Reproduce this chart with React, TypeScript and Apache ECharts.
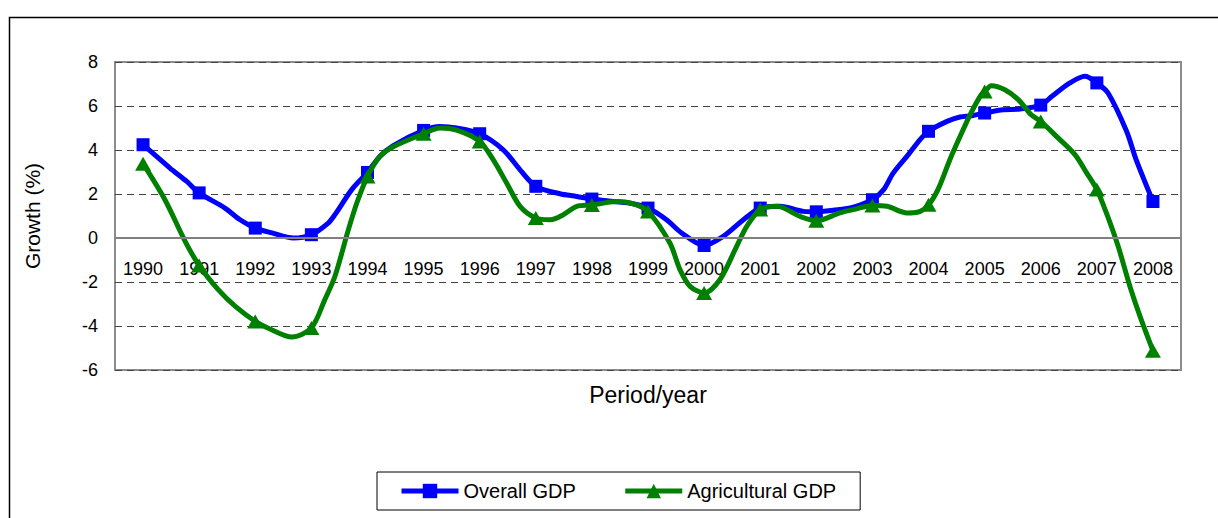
import React, { useEffect, useRef } from "react";
import * as echarts from "echarts";

const years = [1990, 1991, 1992, 1993, 1994, 1995, 1996, 1997, 1998, 1999, 2000, 2001, 2002, 2003, 2004, 2005, 2006, 2007, 2008];
const overallGDP = [4.24, 2.05, 0.45, 0.15, 2.98, 4.89, 4.74, 2.35, 1.77, 1.36, -0.34, 1.36, 1.19, 1.74, 4.85, 5.68, 6.04, 7.05, 1.66];
const agriculturalGDP = [3.38, -1.25, -3.79, -4.09, 2.8, 4.74, 4.39, 0.91, 1.5, 1.21, -2.5, 1.29, 0.78, 1.48, 1.51, 6.66, 5.3, 2.2, -5.12];

// points of the plotted curves between the yearly markers: [period, growth]
const overallBetween: [number, number][] = [
  [1990.48, 3.18], [1990.78, 2.57], [1991.46, 1.36], [1991.73, 0.83], [1992.3, 0.23], [1992.68, 0.0],
  [1993.3, 0.68], [1993.42, 1.06], [1993.72, 2.2], [1994.22, 3.71], [1994.46, 4.2], [1995.29, 5.07],
  [1995.59, 5.0], [1996.42, 4.01], [1996.72, 3.1], [1997.43, 2.01], [1997.73, 1.89], [1998.38, 1.66],
  [1998.73, 1.56], [1999.33, 0.83], [1999.6, 0.23], [2000.34, 0.07], [2000.7, 0.83], [2001.35, 1.44],
  [2001.77, 1.21], [2002.42, 1.3], [2002.66, 1.4], [2003.2, 2.2], [2003.37, 2.95], [2003.64, 3.79],
  [2003.85, 4.47], [2004.33, 5.3], [2004.56, 5.5], [2004.77, 5.56], [2005.33, 5.83], [2005.63, 5.86],
  [2006.2, 6.44], [2006.52, 7.05], [2006.79, 7.35], [2007.2, 6.59], [2007.53, 4.85], [2007.7, 3.56],
];
const agriculturalBetween: [number, number][] = [
  [1990.39, 1.74], [1990.75, -0.15], [1991.34, -2.35], [1991.64, -3.1], [1992.29, -4.17], [1992.65, -4.5],
  [1993.24, -2.8], [1993.42, -1.74], [1993.66, 0.38], [1993.81, 1.59], [1994.22, 3.7], [1994.46, 4.15],
  [1995.29, 5.0], [1995.59, 4.9], [1996.24, 3.56], [1996.48, 2.5], [1996.72, 1.44], [1997.26, 0.83],
  [1997.49, 1.06], [1997.73, 1.44], [1998.44, 1.66], [1998.73, 1.56], [1999.39, -0.23], [1999.57, -1.44],
  [1999.75, -2.2], [2000.28, -1.9], [2000.58, -0.38], [2000.76, 0.53], [2001.3, 1.44], [2001.71, 0.98],
  [2002.42, 1.14], [2002.66, 1.29], [2003.26, 1.44], [2003.62, 1.14], [2003.8, 1.17], [2004.18, 2.27],
  [2004.38, 3.56], [2004.59, 4.77], [2004.74, 5.6], [2004.92, 6.44], [2005.12, 6.92], [2005.36, 6.74],
  [2005.6, 6.29], [2005.83, 5.6], [2006.28, 4.62], [2006.61, 3.79], [2006.82, 2.95], [2007.17, 1.14],
  [2007.38, -0.38], [2007.59, -2.2], [2007.77, -3.56],
];

const yTicks = { min: -6, max: 8, interval: 2 };

function buildData(yearly: number[], between: [number, number][]) {
  const items: any[] = [];
  years.forEach((y, i) => items.push({ value: [y, yearly[i]] }));
  between.forEach((p) => items.push({ value: [p[0], p[1]], symbol: "none", symbolSize: 0 }));
  items.sort((a, b) => a.value[0] - b.value[0]);
  return items;
}

export default function App() {
  const ref = useRef<HTMLDivElement>(null);
  useEffect(() => {
    if (!ref.current) return;
    const chart = echarts.init(ref.current, undefined, { renderer: "svg" });
    const sans = "'Liberation Sans', Arial, sans-serif";
    chart.setOption({
      animation: false,
      backgroundColor: "#fff",
      graphic: [
        {
          type: "rect",
          shape: { x: 9.5, y: 17.5, width: 1400, height: 700 },
          style: { fill: "none", stroke: "#000", lineWidth: 1.5 },
          silent: true,
          z: -1,
        },
      ],
      grid: {
        left: 115,
        top: 62,
        width: 1066,
        height: 308,
        show: true,
        containLabel: false,
        outerBoundsMode: "none",
        borderColor: "#8c8c8c",
        borderWidth: 2,
        backgroundColor: "transparent",
      },
      legend: {
        left: 377,
        top: 472,
        orient: "horizontal",
        borderColor: "#000",
        borderWidth: 1,
        backgroundColor: "#fff",
        padding: [9, 24, 9, 22],
        itemWidth: 57,
        itemHeight: 18,
        itemGap: 47,
        lineStyle: { width: 5 },
        textStyle: { fontFamily: sans, fontSize: 20, color: "#000" },
        data: ["Overall GDP", "Agricultural GDP"],
      },
      xAxis: {
        type: "value",
        min: 1989.5,
        max: 2008.5,
        name: "Period/year",
        nameLocation: "middle",
        nameGap: 13,
        nameTextStyle: { fontFamily: sans, fontSize: 23, color: "#000" },
        axisLine: { show: false, onZero: false },
        axisTick: { show: false },
        splitLine: { show: false },
        axisLabel: {
          customValues: years,
          fontFamily: sans,
          fontSize: 18,
          color: "#000",
          margin: -110,
          formatter: (v: number) => String(v),
        },
      },
      yAxis: {
        type: "value",
        min: yTicks.min,
        max: yTicks.max,
        interval: yTicks.interval,
        name: "Growth (%)",
        nameLocation: "middle",
        nameRotate: 90,
        nameGap: 72,
        nameTextStyle: { fontFamily: sans, fontSize: 21, color: "#000" },
        axisLine: { show: false },
        axisTick: { show: false },
        axisLabel: { fontFamily: sans, fontSize: 18, color: "#000", margin: 17 },
        splitLine: { show: true, lineStyle: { color: "#444", width: 1, type: [7, 5] } },
      },
      series: [
        {
          name: "zero",
          type: "line",
          data: [],
          z: 1,
          silent: true,
          markLine: {
            silent: true,
            symbol: "none",
            label: { show: false },
            lineStyle: { color: "#808080", width: 2, type: "solid" },
            data: [{ yAxis: 0 }],
          },
        },
        {
          name: "Overall GDP",
          type: "line",
          data: buildData(overallGDP, overallBetween),
          smooth: 0.3,
          symbol: "rect",
          symbolSize: 13,
          showAllSymbol: true,
          itemStyle: { color: "#0000ff" },
          lineStyle: { color: "#0000ff", width: 5 },
          z: 3,
        },
        {
          name: "Agricultural GDP",
          type: "line",
          data: buildData(agriculturalGDP, agriculturalBetween),
          smooth: 0.3,
          symbol: "triangle",
          symbolSize: [16, 14],
          showAllSymbol: true,
          itemStyle: { color: "#008000" },
          lineStyle: { color: "#008000", width: 5 },
          z: 4,
        },
      ],
    });
    return () => chart.dispose();
  }, []);
  return (
    <div
      ref={ref}
      style={{ position: "fixed", left: 0, top: 0, width: 1218, height: 518, background: "#fff" }}
    />
  );
}
